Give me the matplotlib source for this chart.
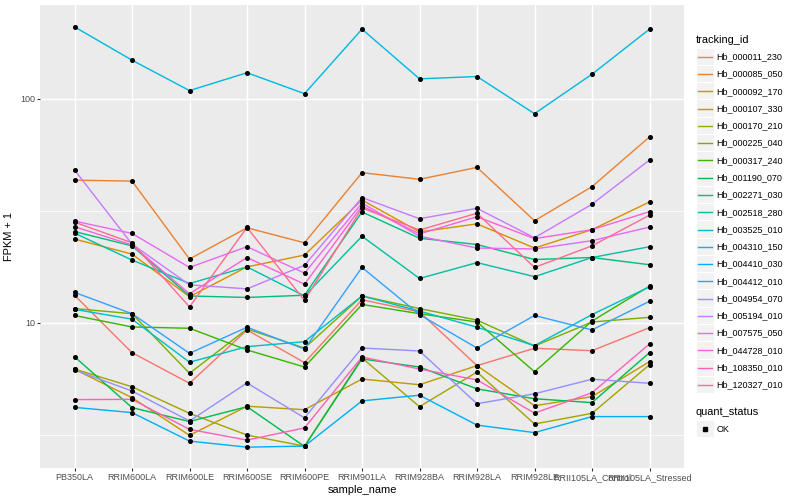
import matplotlib
matplotlib.use("Agg")
import matplotlib.pyplot as plt
from matplotlib.patches import Rectangle
from matplotlib.lines import Line2D

plt.rcParams['font.family'] = ['Liberation Sans', 'DejaVu Sans']

samples = ["PB350LA", "RRIM600LA", "RRIM600LE", "RRIM600SE", "RRIM600PE",
           "RRIM901LA", "RRIM928BA", "RRIM928LA", "RRIM928LE",
           "RRII105LA_Control", "RRII105LA_Stressed"]

tracking_ids = ["Hb_000011_230", "Hb_000085_050", "Hb_000092_170", "Hb_000107_330",
                "Hb_000170_210", "Hb_000225_040", "Hb_000317_240", "Hb_001190_070",
                "Hb_002271_030", "Hb_002518_280", "Hb_003525_010", "Hb_004310_150",
                "Hb_004410_030", "Hb_004412_010", "Hb_004954_070", "Hb_005194_010",
                "Hb_007575_050", "Hb_044728_010", "Hb_108350_010", "Hb_120327_010"]

# FPKM + 1 per sample
hb_000011_230 = [13.3, 7.37, 5.38, 9.31, 6.65, 12.7, 11.2, 6.45, 7.71, 7.52, 9.53]
hb_000085_050 = [43.4, 43.0, 19.3, 26.6, 22.8, 46.9, 43.8, 49.5, 28.6, 40.6, 67.7]
hb_000092_170 = [23.7, 20.3, 13.1, 17.8, 20.1, 35.4, 25.5, 27.7, 21.6, 26.1, 34.7]
hb_000107_330 = [6.21, 4.64, 3.15, 4.25, 4.10, 5.62, 5.30, 6.45, 4.27, 4.69, 6.72]
hb_000170_210 = [6.23, 5.19, 3.95, 3.16, 2.82, 6.98, 4.23, 6.04, 3.54, 3.95, 6.51]
hb_000225_040 = [11.6, 11.0, 5.96, 9.40, 7.73, 13.2, 11.6, 10.3, 7.89, 10.1, 10.6]
hb_000317_240 = [10.8, 9.60, 9.47, 7.58, 6.36, 12.1, 11.0, 10.1, 6.06, 10.2, 14.6]
hb_001190_070 = [7.07, 4.19, 3.63, 4.23, 2.81, 6.91, 6.36, 5.08, 4.59, 4.41, 7.37]
hb_002271_030 = [25.6, 22.1, 13.2, 13.0, 13.3, 31.3, 23.9, 22.4, 19.2, 19.6, 18.2]
hb_002518_280 = [25.2, 19.1, 15.0, 17.8, 13.2, 24.4, 15.8, 18.6, 16.1, 19.6, 21.9]
hb_003525_010 = [11.5, 10.4, 6.68, 7.84, 8.25, 13.2, 11.3, 9.57, 7.92, 10.9, 14.5]
hb_004310_150 = [210, 149, 109, 131, 105.6, 205, 123, 126, 86.0, 129, 205]
hb_004410_030 = [4.20, 3.98, 2.97, 2.79, 2.82, 4.49, 4.76, 3.50, 3.24, 3.82, 3.82]
hb_004412_010 = [13.7, 11.0, 7.32, 9.57, 7.65, 17.7, 10.9, 7.73, 10.8, 9.31, 12.5]
hb_004954_070 = [6.17, 4.97, 3.65, 5.40, 3.77, 7.73, 7.50, 4.36, 4.83, 5.61, 5.38]
hb_005194_010 = [48.2, 22.5, 14.8, 14.2, 18.1, 36.3, 29.2, 32.5, 24.0, 33.9, 53.4]
hb_007575_050 = [28.5, 25.1, 17.7, 21.9, 16.7, 34.3, 24.4, 21.6, 21.4, 23.3, 26.8]
hb_044728_010 = [26.9, 22.3, 13.5, 19.6, 14.9, 33.3, 25.0, 29.8, 23.8, 26.1, 31.4]
hb_108350_010 = [4.55, 4.56, 3.35, 3.00, 3.40, 7.05, 6.23, 5.57, 3.96, 4.88, 8.06]
hb_120327_010 = [28.2, 22.8, 11.8, 26.7, 12.6, 32.6, 26.0, 30.9, 17.7, 22.1, 30.3]

series = [hb_000011_230, hb_000085_050, hb_000092_170, hb_000107_330, hb_000170_210,
          hb_000225_040, hb_000317_240, hb_001190_070, hb_002271_030, hb_002518_280,
          hb_003525_010, hb_004310_150, hb_004410_030, hb_004412_010, hb_004954_070,
          hb_005194_010, hb_007575_050, hb_044728_010, hb_108350_010, hb_120327_010]

# ggplot hue palette for 20 levels
colors = ["#F8766D", "#EA8331", "#D89000", "#C09B00", "#A3A500", "#7CAE00", "#39B600",
          "#00BB4E", "#00BF7D", "#00C1A3", "#00BFC4", "#00BAE0", "#00B0F6", "#35A2FF",
          "#9590FF", "#C77CFF", "#E76BF3", "#FA62DB", "#FF62BC", "#FF6C91"]

W, H = 800, 500
fig = plt.figure(figsize=(8, 5), dpi=100)
ax = fig.add_axes([40 / W, 1 - 468.3 / H, 644 / W, 463.6 / H])
ax.set_facecolor("#EBEBEB")

x = list(range(len(samples)))
for vals, col in zip(series, colors):
    ax.plot(x, vals, color=col, lw=1.02, zorder=3)
for vals in series:
    ax.plot(x, vals, ls="none", marker="o", ms=2.6, color="black", zorder=4)

ax.set_yscale("log")
ax.set_ylim(2.245, 263.6)
ax.set_xlim(-0.6, len(samples) - 0.4)
ax.set_xticks(x)
ax.set_xticklabels(samples)
ax.set_yticks([10, 100])
ax.set_yticklabels(["10", "100"])
ax.set_yticks([10 ** 0.5, 10 ** 1.5], minor=True)
ax.yaxis.set_minor_formatter(plt.NullFormatter())

ax.grid(True, which="major", color="white", lw=1.07, zorder=1)
ax.grid(True, which="minor", axis="y", color="white", lw=0.53, zorder=1)
ax.set_axisbelow(True)
for s in ax.spines.values():
    s.set_visible(False)
ax.tick_params(which="major", length=2.0, width=0.8, color="#333333",
               labelsize=6.5, labelcolor="#4D4D4D", pad=1.6)
ax.tick_params(which="minor", length=0)

ax.set_xlabel("sample_name", fontsize=7.9, labelpad=2)
ax.set_ylabel("FPKM + 1", fontsize=7.9, labelpad=4)


def fx(px):
    return px / W


def fy(py):
    return 1 - py / H


# legend: tracking_id
fig.text(fx(696), fy(40), "tracking_id", fontsize=7.9, va="center", ha="left")
key = 17.28
for i, (name, col) in enumerate(zip(tracking_ids, colors)):
    cy = 56.7 + i * key
    fig.add_artist(Rectangle((fx(696.5), fy(cy + key / 2 - 0.5)), key / W, (key - 1) / H,
                             transform=fig.transFigure, facecolor="#F2F2F2",
                             edgecolor="none"))
    fig.add_artist(Line2D([fx(698.2), fx(712.0)], [fy(cy), fy(cy)],
                          transform=fig.transFigure, color=col, lw=1.02))
    fig.text(fx(716.5), fy(cy), name, fontsize=6.5, va="center", ha="left")

# legend: quant_status
fig.text(fx(696), fy(412), "quant_status", fontsize=7.9, va="center", ha="left")
cy = 429.3
fig.add_artist(Rectangle((fx(696.5), fy(cy + key / 2 - 0.5)), key / W, (key - 1) / H,
                         transform=fig.transFigure, facecolor="#F2F2F2", edgecolor="none"))
fig.add_artist(Line2D([fx(705.1)], [fy(cy)], transform=fig.transFigure, ls="none",
                      marker="s", ms=2.4, color="black"))
fig.text(fx(716.5), fy(cy), "OK", fontsize=6.5, va="center", ha="left")

fig.savefig("out.png", dpi=100)
